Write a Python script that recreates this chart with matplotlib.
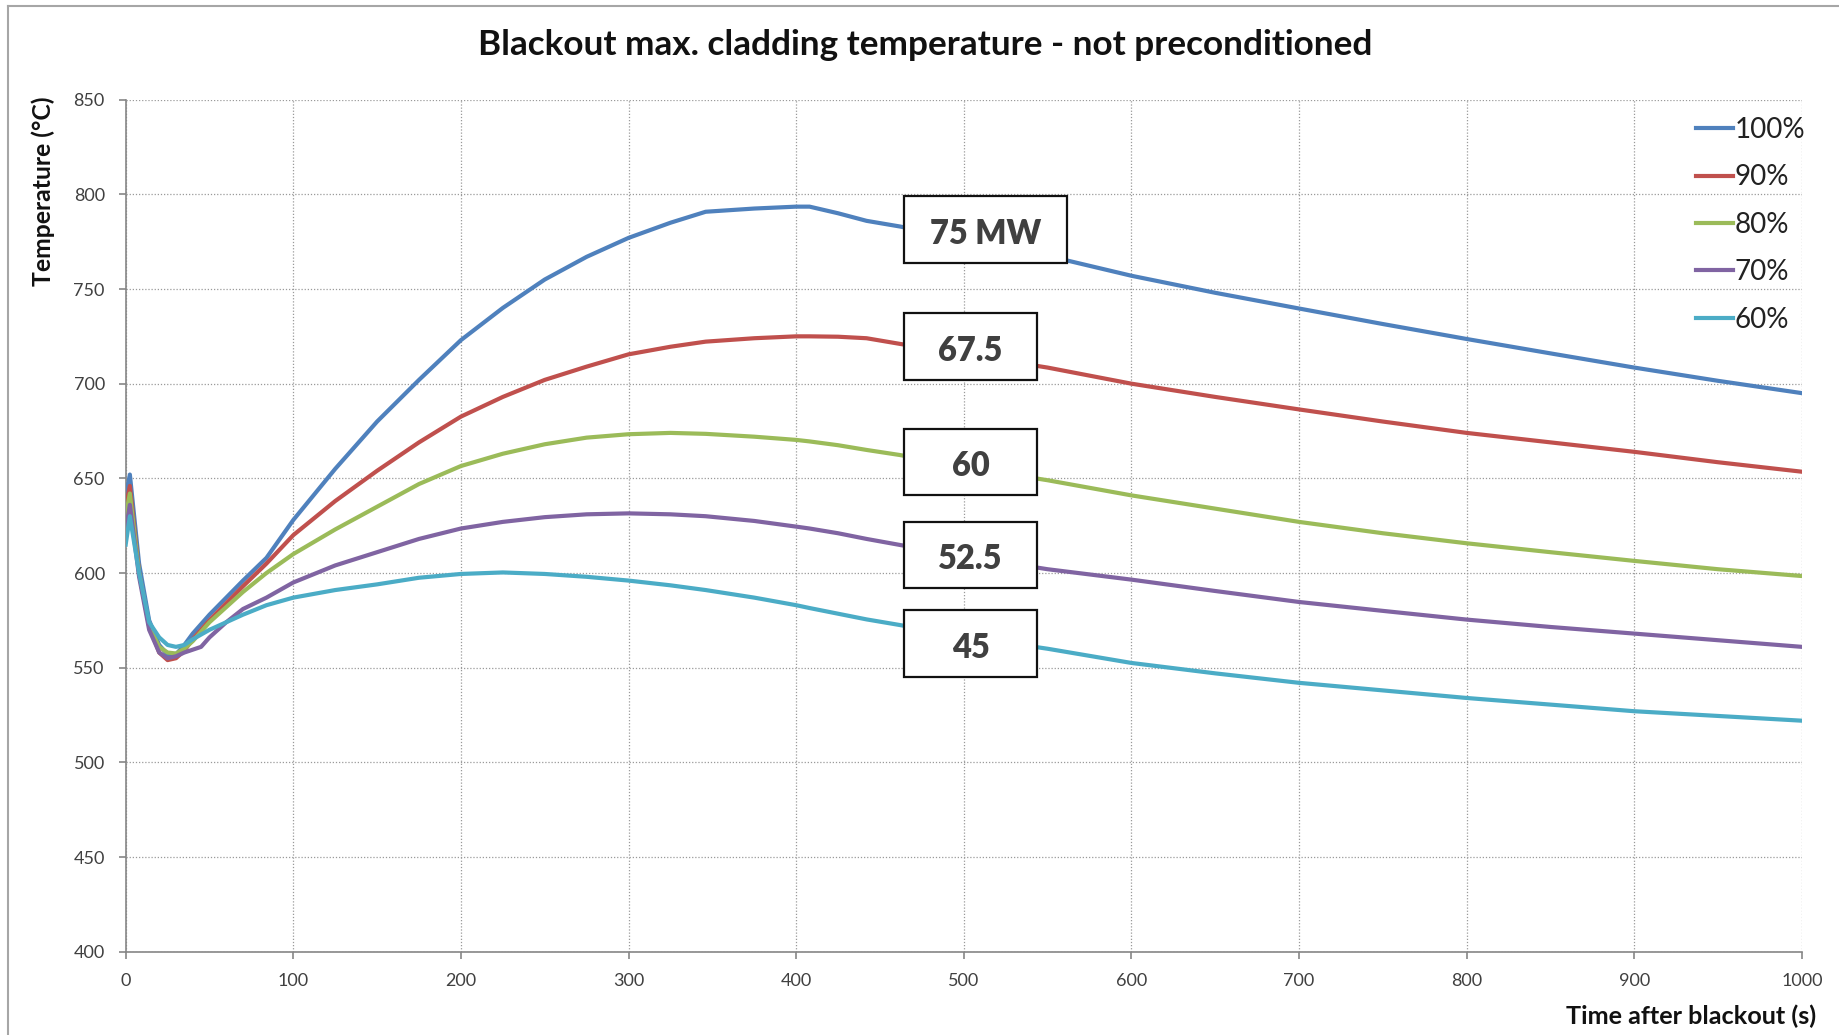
import matplotlib
matplotlib.use('Agg')
import matplotlib.pyplot as plt
from matplotlib.patches import Rectangle
from matplotlib.lines import Line2D

plt.rcParams['font.family'] = ['Lato', 'DejaVu Sans']

# time after blackout (s)
t = [0, 2.5, 8, 14, 20, 25, 30, 35, 40, 45, 50, 60, 70, 84, 100, 125, 150, 175,
     200, 225, 250, 275, 300, 325, 346, 375, 400, 408, 425, 442, 462, 500, 550,
     600, 650, 700, 750, 800, 850, 900, 950, 1000]

p100 = [640, 652, 605, 575, 562, 557, 557, 562, 568, 573, 578, 587, 596, 608, 628,
        655, 680, 702, 723, 740, 755, 767, 777, 785, 790.8, 792.5, 793.5, 793.5,
        790, 786, 783, 776, 767.5, 757, 748, 739.7, 731.5, 723.6, 716, 708.5, 701.5, 695]
p90 = [635, 646, 600, 572, 558, 554, 555, 559, 565, 570, 575, 584, 593, 605, 620,
       638, 654, 669, 682.6, 693, 702, 709, 715.5, 719.5, 722.2, 724, 725, 725,
       724.8, 724, 721, 715.5, 708.5, 700, 693, 686.4, 680, 674, 669, 664, 658.5, 653.5]
p80 = [630, 642, 600, 572, 561, 558, 557.5, 560, 564, 569, 574, 582, 590, 600, 610,
       623, 635, 647, 656.5, 663, 668, 671.5, 673.3, 674, 673.5, 672, 670.3, 669.5,
       667.5, 665, 662.3, 656, 649, 641, 634, 627, 621, 615.7, 611, 606.4, 602, 598.4]
p70 = [622, 636, 598, 570, 558, 555, 556, 558, 559.5, 561, 566, 574, 581, 587, 595,
       604, 611, 618, 623.5, 627, 629.5, 631, 631.5, 631, 630, 627.5, 624.5, 623.5,
       621, 618, 614.8, 609, 602, 596.5, 590.5, 584.7, 580, 575.4, 571.5, 568, 564.5, 561]
p60 = [615, 630, 600, 574, 566, 562, 561, 562, 565, 567.5, 570, 574, 578, 583, 587,
       591, 594, 597.5, 599.5, 600.3, 599.5, 598, 596, 593.5, 591, 587, 583, 581.5,
       578.5, 575.5, 572.5, 566.5, 560, 552.5, 547, 542, 538, 534, 530.5, 527, 524.5, 522]

labels = ['100%', '90%', '80%', '70%', '60%']
colors = ['#4F81BD', '#C0504D', '#9BBB59', '#8064A2', '#4BACC6']
power_labels = ['75 MW', '67.5', '60', '52.5', '45']

fig = plt.figure(figsize=(18.4, 10.35), dpi=100)
ax = fig.add_axes([0.0683, 0.0805, 0.9793 - 0.0683, 0.9037 - 0.0805])

for vals, lab, col in zip([p100, p90, p80, p70, p60], labels, colors):
    ax.plot(t, vals, color=col, lw=3.0, label=lab, zorder=3)

ax.set_xlim(0, 1000)
ax.set_ylim(400, 850)
ax.set_xticks(range(0, 1001, 100))
ax.set_yticks(range(400, 851, 50))
ax.grid(True, color='#9a9a9a', lw=0.9, linestyle=(0, (1, 1.5)))
ax.set_axisbelow(True)
for s in ['top', 'right']:
    ax.spines[s].set_visible(False)
for s in ['left', 'bottom']:
    ax.spines[s].set_color('#868686')
    ax.spines[s].set_linewidth(1.2)
ax.tick_params(direction='out', length=5, width=1.2, color='#868686',
               labelsize=13, labelcolor='#404040', pad=10)

# power boxes (data coords: left, right, bottom, top)
box_geo = [(464.3, 561.7, 763.9, 799.1),
           (464.3, 543.9, 701.9, 737.2),
           (464.3, 543.9, 641.2, 676.2),
           (464.3, 543.9, 591.9, 627.1),
           (464.3, 543.9, 545.2, 580.5)]
for txt, (x0, x1, y0, y1) in zip(power_labels, box_geo):
    ax.add_patch(Rectangle((x0, y0), x1 - x0, y1 - y0, facecolor='white',
                           edgecolor='#111111', lw=1.6, zorder=5))
    ax.text((x0 + x1) / 2, (y0 + y1) / 2 - 2.3, txt, ha='center', va='center',
            fontsize=23.5, fontweight='heavy', color='#404040', zorder=6)

leg = ax.legend(loc='upper left', bbox_to_anchor=(0.9217, 0.887),
                bbox_transform=fig.transFigure, frameon=False, fontsize=20,
                handlelength=1.35, handletextpad=0.05, labelspacing=0.77,
                borderpad=0, borderaxespad=0)
for txt in leg.get_texts():
    txt.set_color('#222222')

fig.text(0.5027, 1 - 45 / 1035, 'Blackout max. cladding temperature - not preconditioned',
         ha='center', va='center', fontsize=25.3, fontweight='bold', color='#111111')
fig.text(43 / 1840, 1 - 191 / 1035, 'Temperature (°C)', rotation=90,
         ha='center', va='center', fontsize=17.8, fontweight='bold', color='#111111')
fig.text(1816 / 1840, 1 - 1016 / 1035, 'Time after blackout (s)',
         ha='right', va='center', fontsize=18.2, fontweight='bold', color='#111111')

# outer chart frame
fig.add_artist(Line2D([8 / 1840, 8 / 1840], [0, 1 - 6 / 1035], color='#a6a6a6', lw=1.5))
fig.add_artist(Line2D([8 / 1840, 1], [1 - 6 / 1035, 1 - 6 / 1035], color='#a6a6a6', lw=1.5))

fig.savefig('out.png', dpi=100, facecolor='white')
